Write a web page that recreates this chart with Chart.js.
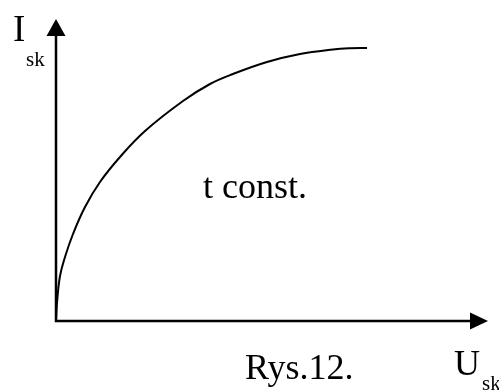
<!DOCTYPE html>
<html>
<head>
<meta charset="utf-8">
<style>
  html, body { margin: 0; padding: 0; background: #fff; }
  #wrap { width: 499px; height: 391px; }
</style>
<script src="https://cdn.jsdelivr.net/npm/chart.js@4"></script>
</head>
<body>
<div id="wrap"><canvas id="plot" width="499" height="391"></canvas></div>
<script>
// curve I_sk(U_sk) at constant t (arbitrary units)
const uValues = [0, 1, 4, 9, 17, 29, 44, 64, 89, 127, 154, 177, 211, 244, 277, 294, 311];
const iValues = [0, 18, 45, 64, 87, 114, 139, 164, 190, 220, 237, 247, 259, 267, 271.5, 272.7, 273];

// axis extents (arrow tips)
const uMax = 432;
const iMax = 302;

// labels
const yLabel = "I";
const xLabel = "U";
const subLabel = "sk";
const curveNote = "t const.";
const caption = "Rys.12.";

const serif = '"Liberation Serif", "Times New Roman", serif';

// draws the two axes with arrow heads and the text
const sketchPlugin = {
    id: "sketch",
    afterDatasetsDraw(chart) {
        const ctx = chart.ctx;
        const x = chart.scales.x;
        const y = chart.scales.y;
        const x0 = x.getPixelForValue(0);
        const y0 = y.getPixelForValue(0);
        const xEnd = x.getPixelForValue(uMax);
        const yEnd = y.getPixelForValue(iMax);

        ctx.save();
        ctx.strokeStyle = "#000";
        ctx.fillStyle = "#000";
        ctx.lineWidth = 2.5;

        // axes
        ctx.beginPath();
        ctx.moveTo(x0, yEnd + 14);
        ctx.lineTo(x0, y0);
        ctx.lineTo(xEnd - 14, y0);
        ctx.stroke();

        // arrow heads
        ctx.beginPath();
        ctx.moveTo(x0, yEnd);
        ctx.lineTo(x0 - 9.5, yEnd + 17);
        ctx.lineTo(x0 + 9.5, yEnd + 17);
        ctx.closePath();
        ctx.fill();

        ctx.beginPath();
        ctx.moveTo(xEnd, y0);
        ctx.lineTo(xEnd - 18, y0 - 8.5);
        ctx.lineTo(xEnd - 18, y0 + 8.5);
        ctx.closePath();
        ctx.fill();

        // text
        ctx.textBaseline = "alphabetic";
        ctx.textAlign = "left";
        ctx.font = "37px " + serif;
        ctx.fillText(yLabel, 13, 41);
        ctx.font = "36px " + serif;
        ctx.fillText(xLabel, 454, 375);
        ctx.fillText(curveNote, 203, 198);
        ctx.fillText(caption, 245, 379);

        ctx.font = "21px " + serif;
        ctx.fillText(subLabel, 26, 66);
        ctx.fillText(subLabel, 482, 390);

        ctx.restore();
    }
};

new Chart("plot", {
    type: "scatter",
    data: {
        datasets: [{
            data: uValues.map((u, i) => ({ x: u, y: iValues[i] })),
            showLine: true,
            borderColor: "#000",
            borderWidth: 2,
            pointRadius: 0,
            tension: 0.4,
            fill: false
        }]
    },
    options: {
        responsive: false,
        animation: false,
        layout: { padding: { left: 56, right: 11, top: 19, bottom: 70 } },
        plugins: {
            legend: { display: false },
            tooltip: { enabled: false }
        },
        scales: {
            x: { type: "linear", min: 0, max: uMax, display: false },
            y: { type: "linear", min: 0, max: iMax, display: false }
        }
    },
    plugins: [sketchPlugin]
});
</script>
</body>
</html>
